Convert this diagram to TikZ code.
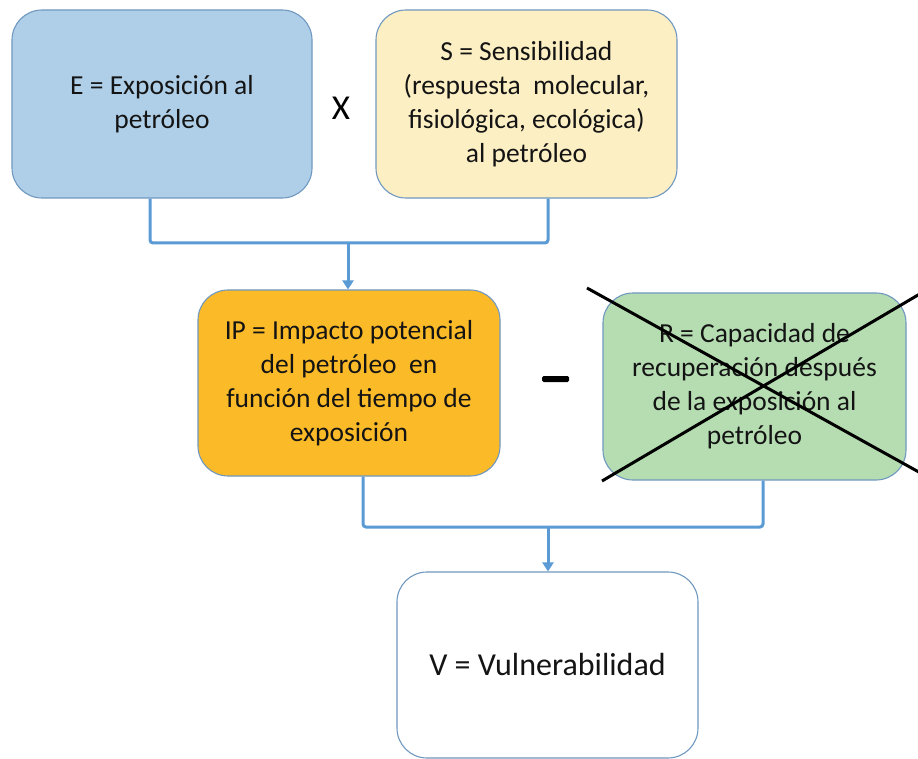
\documentclass[tikz,border=0pt]{standalone}
\usepackage{fontspec}
\setmainfont{Carlito}
\usetikzlibrary{arrows.meta}
\definecolor{bordc}{HTML}{7098C0}
\definecolor{connc}{HTML}{5B9BD5}
\definecolor{efill}{HTML}{AFCFE8}
\definecolor{sfill}{HTML}{FDEFC4}
\definecolor{ipfill}{HTML}{FBBB28}
\definecolor{rfill}{HTML}{B5DDB1}
\definecolor{txtc}{HTML}{141414}
\tikzset{
  box/.style={draw=bordc, line width=1.1pt, rounded corners=30pt, inner sep=0pt,
    align=center, text=txtc, font=\fontsize{27.5}{34}\selectfont},
  conn/.style={draw=connc, line width=3pt, rounded corners=3pt},
  arr/.style={draw=connc, line width=3pt, -{Triangle[width=11pt,length=9pt]}},
  crossline/.style={draw=black, line width=3pt}
}
\begin{document}
\begin{tikzpicture}[x=1pt,y=-1pt]
\clip (0,0) rectangle (918,759);
\fill[white] (0,0) rectangle (918,759);

\node[box, fill=efill, minimum width=300pt, minimum height=188pt] (E) at (162,104)
  {E = Exposición al\\petróleo};
\node[box, fill=sfill, minimum width=301pt, minimum height=188pt] (S) at (526.5,104)
  {S = Sensibilidad\\(respuesta\ \ molecular,\\fisiológica, ecológica)\\al petróleo};
\node[font=\fontsize{35}{35}\selectfont, text=black] (X) at (341,108) {X};

\node[box, fill=ipfill, minimum width=302pt, minimum height=186pt] (IP) at (349,383)
  {IP = Impacto potencial\\del petróleo\ \ en\\función\ del tiempo de\\exposición};
\node[box, fill=rfill, minimum width=303pt, minimum height=187pt] (R) at (754.5,386.5)
  {R = Capacidad de\\recuperación después\\de la exposición\ al\\petróleo};
\node[fill=black, rounded corners=1.5pt, minimum width=27pt, minimum height=6pt, inner sep=0pt] (minus) at (555.5,379) {};

\node[box, fill=white, minimum width=301pt, minimum height=186pt, font=\fontsize{32}{38}\selectfont] (V) at (547.5,665)
  {V = Vulnerabilidad};

% cross over R
\coordinate (c1a) at (587,288);
\coordinate (c1b) at (935,481);
\coordinate (c2a) at (602,481);
\coordinate (c2b) at (935,285);
\draw[crossline] (c1a) -- (c1b);
\draw[crossline] (c2a) -- (c2b);

% connectors top
\coordinate (j1) at (348,243);
\draw[conn] ([xshift=-12pt]E.south) |- (j1);
\draw[conn] ([xshift=21.5pt]S.south) |- (j1);
\draw[arr] (j1) -- (IP.north -| j1);

% connectors bottom
\coordinate (j2) at (548,527);
\draw[conn] ([xshift=14pt]IP.south) |- (j2);
\draw[conn] ([xshift=8.5pt]R.south) |- (j2);
\draw[arr] (j2) -- (V.north -| j2);
\end{tikzpicture}
\end{document}
